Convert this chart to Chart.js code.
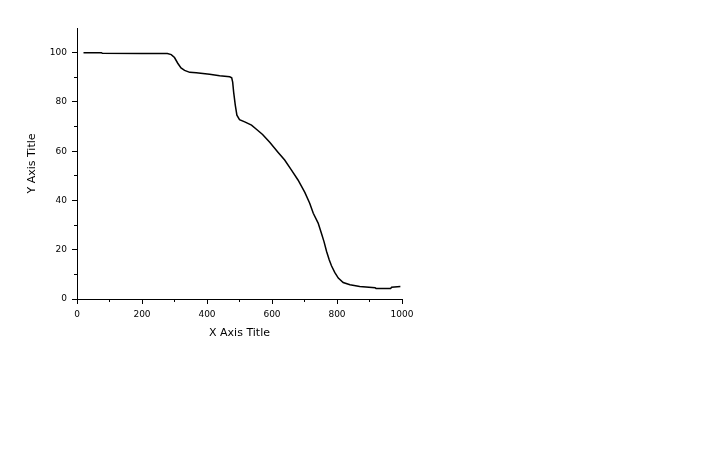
<!DOCTYPE html>
<html>
<head>
<meta charset="utf-8">
<script src="https://cdn.jsdelivr.net/npm/chart.js@4/dist/chart.umd.min.js"></script>
<style>
  html, body { margin: 0; padding: 0; background: #fff; }
  canvas { display: block; }
</style>
</head>
<body>
<canvas id="c" width="720" height="450"></canvas>
<script>
const xValues = [20, 75, 78, 200, 278, 290, 300, 310, 320, 331, 347, 367, 408, 439, 470, 476, 479, 482, 487, 492, 500, 516, 537, 552, 571, 593, 619, 639, 660, 680, 701, 716, 727, 742, 752, 760, 768, 776, 783, 793, 804, 819, 840, 870, 917, 920, 965, 968, 995];
const yValues = [100, 100, 99.7, 99.6, 99.6, 99.2, 98, 95.7, 93.8, 92.8, 92, 91.8, 91.2, 90.6, 90.2, 89.8, 88, 84, 78.7, 74.6, 72.8, 71.9, 70.6, 68.9, 66.8, 63.6, 59.5, 56.4, 52.3, 48.3, 43.3, 38.9, 34.8, 30.8, 26.7, 23.3, 19.3, 15.9, 13.5, 10.8, 8.5, 6.7, 5.8, 5.1, 4.6, 4.3, 4.3, 4.8, 5.1];
const xTitle = 'X Axis Title';
const yTitle = 'Y Axis Title';
const xRange = [0, 1000];
const yRange = [0, 110];
const xMajorStep = 200, xMinorStep = 100;
const yMajorStep = 20, yMinorStep = 10;
const yLastTick = 100;

const points = xValues.map((x, i) => ({ x: x, y: yValues[i] }));
const tickFont = { family: 'DejaVu Sans', size: 9 };
const titleFont = { family: 'DejaVu Sans', size: 11 };
const plain = v => String(v);

new Chart(document.getElementById('c'), {
  type: 'line',
  data: {
    datasets: [{
      data: points,
      borderColor: '#000',
      borderWidth: 1.5,
      pointRadius: 0,
      fill: false,
      tension: 0
    }]
  },
  options: {
    responsive: false,
    devicePixelRatio: 1,
    animation: false,
    layout: { padding: { left: 0, top: 28, right: 318, bottom: 106 } },
    plugins: { legend: { display: false }, tooltip: { enabled: false } },
    scales: {
      x: {
        type: 'linear', position: 'bottom', weight: 1,
        min: xRange[0], max: xRange[1],
        ticks: { stepSize: xMajorStep, font: tickFont, color: '#000', padding: 5, maxRotation: 0, callback: plain },
        grid: { drawOnChartArea: false, tickLength: 5, color: '#000', lineWidth: 1 },
        border: { display: true, color: '#000', width: 1 },
        title: { display: true, text: xTitle, font: titleFont, color: '#000', padding: { top: 0, bottom: 4 } },
        afterFit: s => { s.height = 45; }
      },
      xMinor: {
        type: 'linear', position: 'bottom', weight: 0,
        min: xRange[0], max: xRange[1],
        ticks: { stepSize: xMinorStep, display: false },
        grid: { drawOnChartArea: false, tickLength: 3, color: '#000', lineWidth: 1 },
        border: { display: false },
        afterFit: s => { s.height = 0; }
      },
      y: {
        type: 'linear', position: 'left', weight: 1,
        min: yRange[0], max: yRange[1],
        ticks: { stepSize: yMajorStep, font: tickFont, color: '#000', padding: 5, callback: plain },
        afterBuildTicks: s => { s.ticks = s.ticks.filter(t => t.value <= yLastTick); },
        grid: { drawOnChartArea: false, tickLength: 5, color: '#000', lineWidth: 1 },
        border: { display: true, color: '#000', width: 1 },
        title: { display: true, text: yTitle, font: titleFont, color: '#000', padding: { top: 26, bottom: 0 } },
        afterFit: s => { s.width = 77; }
      },
      yMinor: {
        type: 'linear', position: 'left', weight: 0,
        min: yRange[0], max: yRange[1],
        ticks: { stepSize: yMinorStep, display: false },
        afterBuildTicks: s => { s.ticks = s.ticks.filter(t => t.value <= yLastTick); },
        grid: { drawOnChartArea: false, tickLength: 3, color: '#000', lineWidth: 1 },
        border: { display: false },
        afterFit: s => { s.width = 0; }
      }
    }
  }
});
</script>
</body>
</html>
